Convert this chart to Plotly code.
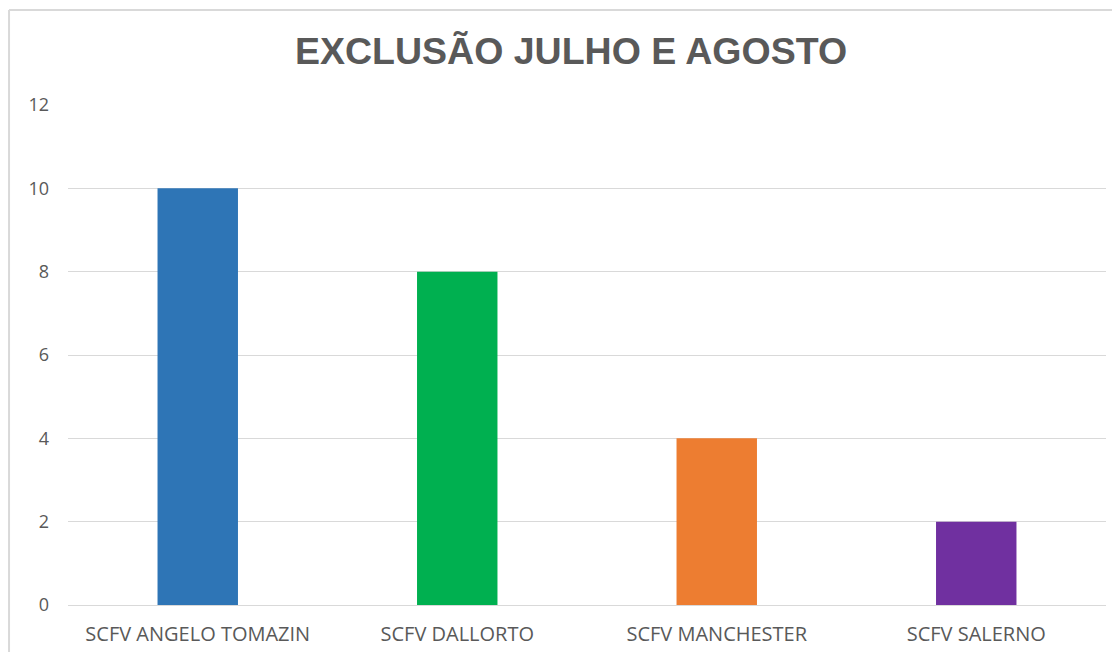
import plotly.graph_objects as go

# categories and values
unidades = ["SCFV ANGELO TOMAZIN", "SCFV DALLORTO", "SCFV MANCHESTER", "SCFV SALERNO"]
exclusoes = [10, 8, 4, 2]
cores = ["#2E75B6", "#00B050", "#ED7D31", "#7030A0"]
y_ticks = [0, 2, 4, 6, 8, 10, 12]

fig = go.Figure(go.Bar(x=unidades, y=exclusoes, marker=dict(color=cores, line=dict(width=0)),
                       width=0.31))

# page has an 8px body margin, so the figure starts at (8, 8)
fig.update_layout(
    width=1104, height=644,
    margin=dict(l=60, r=6, t=97, b=47),
    paper_bgcolor="white", plot_bgcolor="white",
    title=dict(text="<b>EXCLUSÃO JULHO E AGOSTO</b>", x=0.51, xanchor="center",
               y=0.933, yanchor="middle",
               font=dict(family="Liberation Sans, Arial", size=37.5, color="#595959")),
    font=dict(family="Open Sans, Liberation Sans", color="#595959"),
    showlegend=False,
)
fig.update_xaxes(showgrid=False, showline=False, ticks="", tickfont=dict(size=20, color="#595959"),
                 ticklabelstandoff=15)
fig.update_yaxes(range=[0, 12], tickvals=y_ticks, showgrid=True, gridcolor="#D9D9D9", gridwidth=1,
                 zeroline=True, zerolinecolor="#D9D9D9", zerolinewidth=1,
                 tickfont=dict(size=18, color="#595959"), ticklabelstandoff=18)

# outer chart border (Excel style, only top and left edges are in frame)
fig.add_shape(type="line", xref="paper", yref="paper", x0=-0.0568, x1=1.2, y0=1.19, y1=1.19,
              line=dict(color="#D9D9D9", width=2), layer="below")
fig.add_shape(type="line", xref="paper", yref="paper", x0=-0.0568, x1=-0.0568, y0=-0.5, y1=1.19,
              line=dict(color="#D9D9D9", width=2), layer="below")

fig.write_html("out.html")
